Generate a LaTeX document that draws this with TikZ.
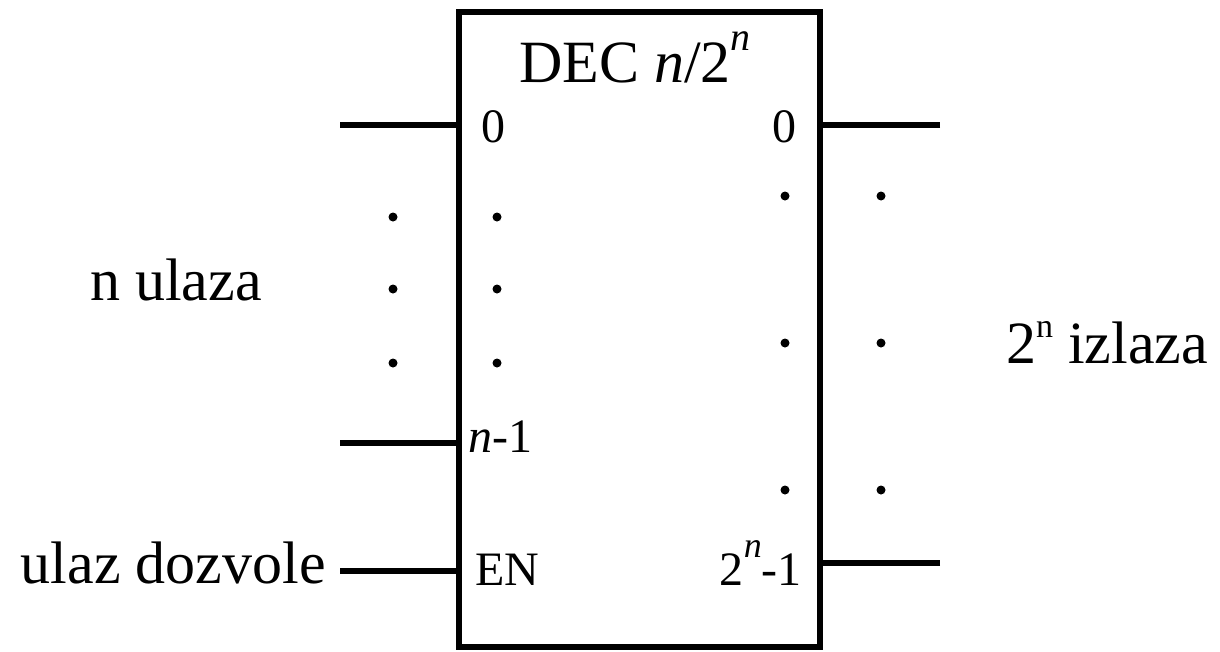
\documentclass[tikz,border=0pt]{standalone}
\usepackage{fontspec}
\setmainfont{Liberation Serif}
\newcommand{\myup}[3]{\raisebox{#1}{\fontsize{#2}{#2}\selectfont #3}}
\begin{document}
\begin{tikzpicture}[x=1pt,y=-1pt,
  wire/.style={line width=6pt},
  big/.style={font=\fontsize{60}{72}\selectfont, inner sep=0pt, anchor=base west},
  small/.style={font=\fontsize{48}{56}\selectfont, inner sep=0pt, anchor=base west},
  dotm/.style={circle, fill, inner sep=0pt, minimum size=9pt}]
\useasboundingbox (0,0) rectangle (1220,651);
\node[draw, line width=6pt, inner sep=0pt, minimum width=361pt, minimum height=635pt] (box) at (639.5,329.5) {};
% wires
\coordinate (i0) at (340,125);
\coordinate (in1) at (340,443);
\coordinate (ien) at (340,571);
\coordinate (o0) at (940,125);
\coordinate (on) at (940,563);
\draw[wire] (i0) -- (i0 -| box.west);
\draw[wire] (in1) -- (in1 -| box.west);
\draw[wire] (ien) -- (ien -| box.west);
\draw[wire] (o0) -- (o0 -| box.east);
\draw[wire] (on) -- (on -| box.east);
% labels
\node[big] (title) at (519,82) {DEC \textit{n}/2\myup{32pt}{40pt}{\textit{n}}};
\node[small] (l0) at (481,142) {0};
\node[small] (ln1) at (468,452) {\textit{n}-1};
\node[small] (len) at (475,585) {EN};
\node[small] (r0) at (772,142) {0};
\node[small, anchor=base east] (rn) at (802,585) {2\myup{28pt}{36pt}{\textit{n}}-1};
\node[big] (nul) at (90,300) {n ulaza};
\node[big] (niz) at (1006,363) {2\myup{26pt}{34pt}{n} izlaza};
\node[big, anchor=base east] (uld) at (326,583) {ulaz dozvole};
% dots
\foreach \y [count=\i] in {217,289,363} {
  \node[dotm] (dlo\i) at (393,\y) {};
  \node[dotm] (dli\i) at (497,\y) {};
}
\foreach \y [count=\i] in {196,343,490} {
  \node[dotm] (dri\i) at (785,\y) {};
  \node[dotm] (dro\i) at (881,\y) {};
}
\end{tikzpicture}
\end{document}
